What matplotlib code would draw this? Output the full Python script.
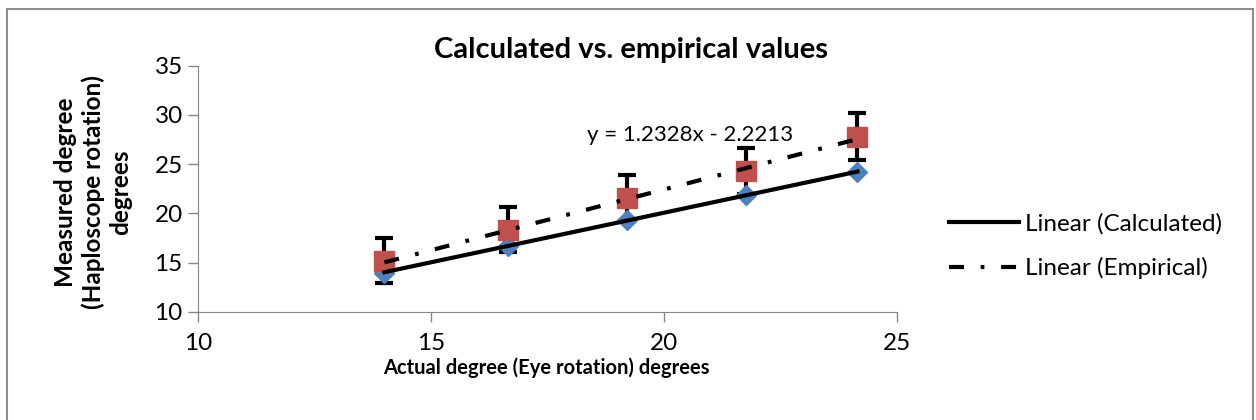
import matplotlib.pyplot as plt
import numpy as np
from matplotlib.patches import Rectangle

# Eye rotation (x) and haploscope readings (y)
actual = [14.0, 16.65, 19.2, 21.75, 24.15]
calculated = [14.0, 16.7, 19.35, 21.85, 24.2]
empirical = [15.2, 18.35, 21.6, 24.3, 27.8]
empirical_err = [2.3, 2.3, 2.35, 2.35, 2.35]

# Trendline equation shown for the empirical series
emp_slope, emp_intercept = 1.2328, -2.2213

x_ticks = [10, 15, 20, 25]
y_ticks = [10, 15, 20, 25, 30, 35]

plt.rcParams['font.family'] = ['Lato', 'DejaVu Sans']

fig = plt.figure(figsize=(12.56, 4.2), dpi=100)
fig.patches.append(Rectangle((7 / 1256, -0.1), 1246 / 1256, 1.1 - 9 / 420,
                             transform=fig.transFigure, fill=False,
                             edgecolor="#8c8c8c", linewidth=1.5))

ax = fig.add_axes([198 / 1256, 1 - 312 / 420, 699 / 1256, 246.3 / 420])

ax.plot(actual, calculated, linestyle="none", marker="D", markersize=10.5,
        color="#4F81BD", zorder=2)
ax.errorbar(actual, empirical, yerr=empirical_err, fmt="none", ecolor="black",
            elinewidth=3, capsize=6.5, capthick=3, zorder=1)
ax.plot(actual, empirical, linestyle="none", marker="s", markersize=14.5,
        color="#C0504D", zorder=3)

# Linear trendlines over the data range
xs = np.array([min(actual), max(actual)])
c_slope, c_int = np.polyfit(actual, calculated, 1)
ax.plot(xs, c_slope * xs + c_int, color="black", linewidth=3,
        label="Linear (Calculated)", zorder=4)
ax.plot(xs, emp_slope * xs + emp_intercept, color="black", linewidth=3,
        linestyle=(0, (3.6, 4.0, 0.9, 4.0)), label="Linear (Empirical)", zorder=4)

ax.text(20.55, 28.0, "y = 1.2328x - 2.2213", fontsize=16, ha="center", va="center")

ax.set_xlim(10, 25)
ax.set_ylim(10, 35)
ax.set_xticks(x_ticks)
ax.set_yticks(y_ticks)
ax.tick_params(labelsize=17.5, colors="black", length=7, width=1, color="#868686")
ax.tick_params(axis="x", pad=8)
ax.tick_params(axis="y", pad=4)
for side in ["top", "right"]:
    ax.spines[side].set_visible(False)
for side in ["left", "bottom"]:
    ax.spines[side].set_color("#868686")

fig.text(631 / 1256, 1 - 50 / 420, "Calculated vs. empirical values",
         fontsize=21, fontweight="bold", ha="center", va="center")
fig.text(546 / 1256, 1 - 368 / 420, "Actual degree (Eye rotation) degrees",
         fontsize=14.5, fontweight="bold", ha="center", va="center")
fig.text(93 / 1256, 1 - 192 / 420, "Measured degree\n(Haploscope rotation)\ndegrees",
         fontsize=17.5, fontweight="bold", ha="center", va="center", rotation=90,
         linespacing=1.2)

ax.legend(loc="center left", bbox_to_anchor=(927 / 1256, 1 - 246 / 420),
          bbox_transform=fig.transFigure, frameon=False, fontsize=17.5,
          handlelength=2.9, handletextpad=0.25, labelspacing=0.95)

fig.savefig("out.png", dpi=100)
